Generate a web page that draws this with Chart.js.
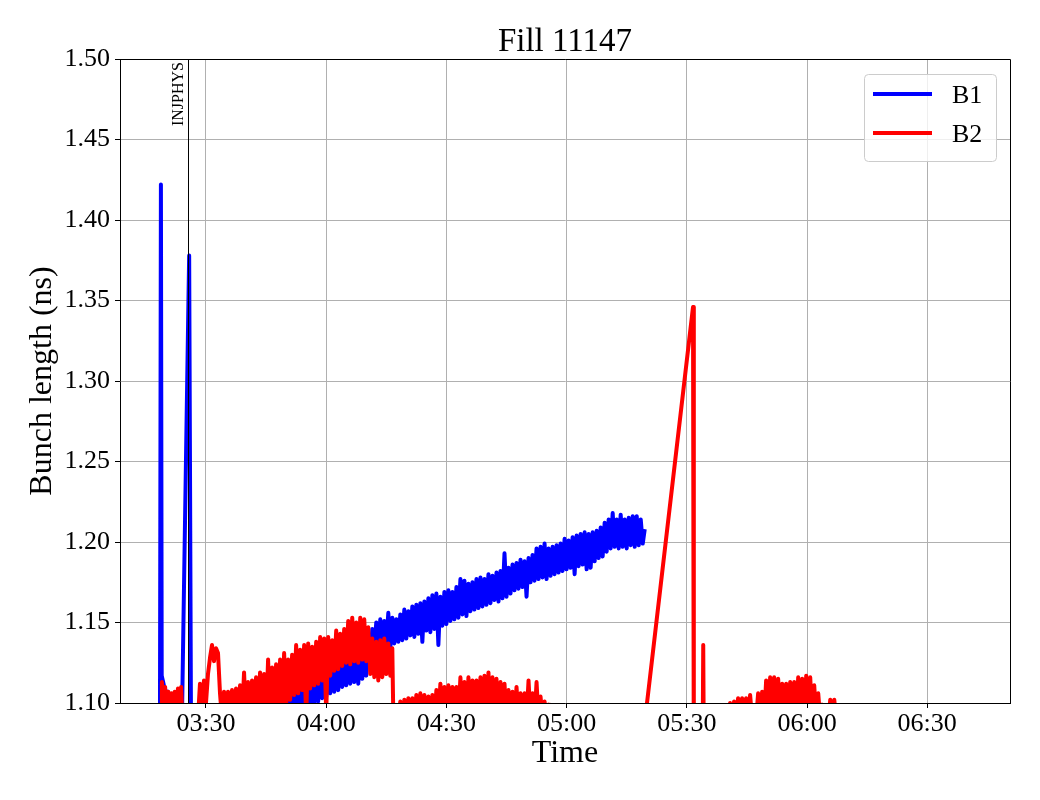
<!DOCTYPE html>
<html>
<head>
<meta charset="utf-8">
<title>Fill 11147</title>
<script src="https://cdn.jsdelivr.net/npm/chart.js@4.4.1/dist/chart.umd.min.js"></script>
<style>
  html, body { margin: 0; padding: 0; background: #fff; }
</style>
</head>
<body>
<canvas id="chart" width="1040" height="800"></canvas>
<script>
// ── Data ─────────────────────────────────────────────────
// time is in minutes after midnight, lengths in ns

const chartTitle = "Fill 11147";

const b1Time = [
  // spikes before injection
  198.5, 198.75, 198.95, 199.4, 199.9, 200.4, 200.9, 201.2, 203.9, 204.0, 205.8, 206.3, 227.0, 228.0,
  // 03:48 - 05:19
  228.5, 229, 229.5, 230, 230.5, 231, 231.5, 232, 232.5, 233,
  233.5, 234, 234.5, 235, 235.5, 236, 236.5, 237, 237.5, 238,
  238.5, 239, 239.5, 240, 240.5, 241, 241.5, 242, 242.5, 243,
  243.5, 244, 244.5, 245, 245.5, 246, 246.5, 247, 247.5, 248,
  248.5, 249, 249.5, 250, 250.5, 251, 251.5, 252, 252.5, 253,
  253.5, 254, 254.5, 255, 255.5, 256, 256.5, 257, 257.5, 258,
  258.5, 259, 259.5, 260, 260.5, 261, 261.5, 262, 262.5, 263,
  263.5, 264, 264.5, 265, 265.5, 266, 266.5, 267, 267.5, 268,
  268.5, 269, 269.5, 270, 270.5, 271, 271.5, 272, 272.5, 273,
  273.5, 274, 274.5, 275, 275.5, 276, 276.5, 277, 277.5, 278,
  278.5, 279, 279.5, 280, 280.5, 281, 281.5, 282, 282.5, 283,
  283.5, 284, 284.5, 285, 285.5, 286, 286.5, 287, 287.5, 288,
  288.5, 289, 289.5, 290, 290.5, 291, 291.5, 292, 292.5, 293,
  293.5, 294, 294.5, 295, 295.5, 296, 296.5, 297, 297.5, 298,
  298.5, 299, 299.5, 300, 300.5, 301, 301.5, 302, 302.5, 303,
  303.5, 304, 304.5, 305, 305.5, 306, 306.5, 307, 307.5, 308,
  308.5, 309, 309.5, 310, 310.5, 311, 311.5, 312, 312.5, 313,
  313.5, 314, 314.5, 315, 315.5, 316, 316.5, 317, 317.5, 318,
  318.5, 319, 319.5
];
const b1Length = [
  1.07, 1.422, 1.117, 1.112, 1.106, 1.107, 1.104, 1.08, 1.08, 1.09, 1.378, 1.06, 1.07, 1.08,
  1.104, 1.090, 1.105, 1.092, 1.106, 1.091, 1.108, 1.093, 1.107, 1.094,
  1.110, 1.095, 1.112, 1.093, 1.113, 1.097, 1.120, 1.099, 1.116, 1.101,
  1.118, 1.103, 1.121, 1.104, 1.122, 1.106, 1.121, 1.107, 1.124, 1.108,
  1.126, 1.110, 1.127, 1.111, 1.129, 1.112, 1.130, 1.113, 1.131, 1.112,
  1.133, 1.115, 1.134, 1.117, 1.138, 1.125, 1.146, 1.133, 1.150, 1.134,
  1.152, 1.135, 1.151, 1.136, 1.156, 1.134, 1.153, 1.137, 1.152, 1.138,
  1.155, 1.139, 1.158, 1.140, 1.157, 1.142, 1.160, 1.141, 1.161, 1.143,
  1.162, 1.138, 1.163, 1.145, 1.165, 1.144, 1.167, 1.146, 1.168, 1.136,
  1.166, 1.148, 1.169, 1.149, 1.170, 1.151, 1.169, 1.152, 1.172, 1.153,
  1.177, 1.155, 1.176, 1.154, 1.174, 1.157, 1.175, 1.158, 1.177, 1.159,
  1.178, 1.160, 1.177, 1.161, 1.180, 1.162, 1.179, 1.164, 1.181, 1.163,
  1.182, 1.165, 1.193, 1.166, 1.184, 1.168, 1.186, 1.170, 1.187, 1.171,
  1.189, 1.172, 1.188, 1.166, 1.190, 1.175, 1.192, 1.176, 1.196, 1.177,
  1.197, 1.178, 1.199, 1.177, 1.196, 1.179, 1.197, 1.180, 1.198, 1.181,
  1.199, 1.182, 1.202, 1.183, 1.201, 1.184, 1.203, 1.180, 1.204, 1.185,
  1.205, 1.186, 1.206, 1.183, 1.205, 1.184, 1.206, 1.188, 1.207, 1.190,
  1.209, 1.191, 1.212, 1.194, 1.214, 1.196, 1.218, 1.197, 1.214, 1.196,
  1.217, 1.197, 1.214, 1.196, 1.215, 1.198, 1.216, 1.197, 1.216, 1.198,
  1.214, 1.199, 1.208
];

const b2Time = [
  // first blip before injection
  198.9, 199.0, 199.4, 199.8, 200.2, 200.6, 201.0, 201.4, 201.8, 202.2, 202.6, 203.0, 203.4, 203.8, 204.1,
  208.0,
  // 03:28 - 04:17
  208.5, 209, 209.5, 210, 210.5, 211, 211.5, 212, 212.5, 213,
  213.5, 214, 214.5, 215, 215.5, 216, 216.5, 217, 217.5, 218,
  218.5, 219, 219.5, 220, 220.5, 221, 221.5, 222, 222.5, 223,
  223.5, 224, 224.5, 225, 225.5, 226, 226.5, 227, 227.5, 228,
  228.5, 229, 229.5, 230, 230.5, 231, 231.5, 232, 232.5, 233,
  233.5, 234, 234.5, 235, 235.5, 236, 236.5, 237, 237.5, 238,
  238.5, 239, 239.5, 240, 240.5, 241, 241.5, 242, 242.5, 243,
  243.5, 244, 244.5, 245, 245.5, 246, 246.5, 247, 247.5, 248,
  248.5, 249, 249.5, 250, 250.5, 251, 251.5, 252, 252.5, 253,
  253.5, 254, 254.5, 255, 255.5, 256, 256.5, 257,
  // 04:18 - 04:55
  258, 258.5, 259, 259.5, 260, 260.5, 261, 261.5, 262, 262.5,
  263, 263.5, 264, 264.5, 265, 265.5, 266, 266.5, 267, 267.5,
  268, 268.5, 269, 269.5, 270, 270.5, 271, 271.5, 272, 272.5,
  273, 273.5, 274, 274.5, 275, 275.5, 276, 276.5, 277, 277.5,
  278, 278.5, 279, 279.5, 280, 280.5, 281, 281.5, 282, 282.5,
  283, 283.5, 284, 284.5, 285, 285.5, 286, 286.5, 287, 287.5,
  288, 288.5, 289, 289.5, 290, 290.5, 291, 291.5, 292, 292.5,
  293, 293.5, 294, 294.5, 295, 295.5,
  // spikes around 05:30
  319.6, 331.55, 331.75, 333.9, 334.1, 334.3,
  // 05:40 - 06:08
  340.3, 340.8, 341.3, 341.8, 342.3, 342.8, 343.3, 343.8, 344.3, 344.8,
  345.3, 345.8, 346.3, 346.8, 347.3, 347.8, 348.3, 348.8, 349.3, 349.8,
  350.3, 350.8, 351.3, 351.8, 352.3, 352.8, 353.3, 353.8, 354.3, 354.8,
  355.3, 355.8, 356.3, 356.8, 357.3, 357.8, 358.3, 358.8, 359.3, 359.8,
  360.3, 360.8, 361.3, 361.8, 362.3, 362.8, 363.3, 363.8, 364.3, 364.8,
  365.3, 365.8, 366.3, 366.8, 367.3, 367.8
];
const b2Length = [
  1.09, 1.113, 1.094, 1.110, 1.093, 1.107, 1.092, 1.106, 1.093, 1.107, 1.092, 1.109, 1.093, 1.110, 1.09,
  1.09,
  1.112, 1.099, 1.114, 1.100, 1.118, 1.128, 1.136, 1.126, 1.134, 1.131,
  1.106, 1.090, 1.107, 1.090, 1.107, 1.090, 1.108, 1.090, 1.109, 1.090,
  1.111, 1.090, 1.119, 1.090, 1.113, 1.090, 1.114, 1.090, 1.116, 1.090,
  1.119, 1.090, 1.118, 1.090, 1.127, 1.090, 1.122, 1.090, 1.124, 1.090,
  1.127, 1.092, 1.131, 1.098, 1.127, 1.102, 1.130, 1.105, 1.136, 1.106,
  1.133, 1.108, 1.136, 1.090, 1.137, 1.109, 1.135, 1.111, 1.138, 1.112,
  1.141, 1.114, 1.140, 1.093, 1.141, 1.117, 1.139, 1.120, 1.145, 1.121,
  1.143, 1.123, 1.146, 1.125, 1.151, 1.124, 1.153, 1.126, 1.150, 1.125,
  1.153, 1.127, 1.152, 1.126, 1.147, 1.118, 1.140, 1.116, 1.138, 1.114,
  1.139, 1.116, 1.140, 1.118, 1.137, 1.117, 1.134, 1.050,
  1.090, 1.101, 1.090, 1.102, 1.090, 1.103, 1.090, 1.103, 1.090, 1.105,
  1.090, 1.106, 1.090, 1.105, 1.090, 1.104, 1.090, 1.105, 1.090, 1.108,
  1.090, 1.112, 1.090, 1.110, 1.090, 1.111, 1.090, 1.110, 1.090, 1.110,
  1.090, 1.116, 1.090, 1.113, 1.090, 1.116, 1.090, 1.114, 1.090, 1.114,
  1.090, 1.116, 1.090, 1.117, 1.090, 1.119, 1.090, 1.116, 1.090, 1.115,
  1.090, 1.113, 1.090, 1.112, 1.090, 1.108, 1.090, 1.107, 1.090, 1.110,
  1.090, 1.106, 1.090, 1.106, 1.090, 1.114, 1.090, 1.106, 1.090, 1.113,
  1.090, 1.104, 1.090, 1.101, 1.090, 1.099,
  1.09, 1.346, 1.05, 1.05, 1.136, 1.05,
  1.090, 1.100, 1.090, 1.101, 1.090, 1.103, 1.090, 1.103, 1.090, 1.103,
  1.090, 1.105, 1.090, 1.097, 1.090, 1.106, 1.090, 1.107, 1.090, 1.114,
  1.090, 1.116, 1.090, 1.116, 1.090, 1.115, 1.090, 1.112, 1.090, 1.112,
  1.090, 1.113, 1.090, 1.113, 1.090, 1.116, 1.090, 1.115, 1.090, 1.117,
  1.090, 1.116, 1.090, 1.111, 1.090, 1.106, 1.090, 1.099, 1.090, 1.097,
  1.090, 1.102, 1.090, 1.102, 1.090, 1.097
];

const xTicks      = [210, 240, 270, 300, 330, 360, 390];
const xTickLabels = ["03:30", "04:00", "04:30", "05:00", "05:30", "06:00", "06:30"];
const yTicks      = [1.10, 1.15, 1.20, 1.25, 1.30, 1.35, 1.40, 1.45, 1.50];

const injTime  = 205.5;
const injLabel = "INJPHYS";

// ── Chart ────────────────────────────────────────────────

const SERIF = "'Liberation Serif', 'Times New Roman', serif";

const decorations = {
  id: "decorations",
  afterDraw(chart) {
    const { ctx, chartArea: a, scales: { x } } = chart;
    ctx.save();

    // top / right spines
    ctx.strokeStyle = "#000";
    ctx.lineWidth = 1;
    ctx.beginPath();
    ctx.moveTo(Math.round(a.left), Math.round(a.top) + 0.5);
    ctx.lineTo(Math.round(a.right) + 0.5, Math.round(a.top) + 0.5);
    ctx.lineTo(Math.round(a.right) + 0.5, Math.round(a.bottom));
    ctx.stroke();

    // injection marker
    const px = Math.round(x.getPixelForValue(injTime)) + 0.5;
    ctx.beginPath();
    ctx.moveTo(px, a.top);
    ctx.lineTo(px, a.bottom);
    ctx.stroke();
    ctx.save();
    ctx.translate(px - 5.5, a.top + 3);
    ctx.rotate(-Math.PI / 2);
    ctx.fillStyle = "#000";
    ctx.font = "16px " + SERIF;
    ctx.textAlign = "right";
    ctx.textBaseline = "alphabetic";
    ctx.fillText(injLabel, 0, 0);
    ctx.restore();

    // title
    ctx.fillStyle = "#000";
    ctx.font = "33px " + SERIF;
    ctx.textAlign = "center";
    ctx.textBaseline = "middle";
    ctx.fillText(chartTitle, (a.left + a.right) / 2, 42);

    // legend
    const bw = 132, bh = 87;
    const bx = a.right - 14 - bw, by = a.top + 15;
    ctx.beginPath();
    ctx.roundRect(bx + 0.5, by + 0.5, bw, bh, 4);
    ctx.fillStyle = "rgba(255,255,255,0.8)";
    ctx.fill();
    ctx.strokeStyle = "#cccccc";
    ctx.stroke();
    ctx.font = "26px " + SERIF;
    ctx.textAlign = "left";
    chart.data.datasets.forEach((ds, i) => {
      const ly = by + 20 + i * 39;
      ctx.strokeStyle = ds.borderColor;
      ctx.lineWidth = 4;
      ctx.beginPath();
      ctx.moveTo(bx + 9, ly);
      ctx.lineTo(bx + 68, ly);
      ctx.stroke();
      ctx.fillStyle = "#000";
      ctx.fillText(ds.label, bx + 88, ly + 2);
    });

    ctx.restore();
  }
};

new Chart(document.getElementById("chart"), {
  type: "line",
  data: {
    datasets: [
      {
        label: "B1",
        data: b1Time.map((t, i) => ({ x: t, y: b1Length[i] })),
        borderColor: "#0000ff",
        borderWidth: 4,
        pointRadius: 0,
        tension: 0,
        borderJoinStyle: "round",
        clip: 0,
        order: 1
      },
      {
        label: "B2",
        data: b2Time.map((t, i) => ({ x: t, y: b2Length[i] })),
        borderColor: "#ff0000",
        borderWidth: 4,
        pointRadius: 0,
        tension: 0,
        borderJoinStyle: "round",
        clip: 0,
        order: 0
      }
    ]
  },
  options: {
    responsive: false,
    animation: false,
    events: [],
    layout: { padding: { top: 59, right: 30, left: 0, bottom: 0 } },
    plugins: {
      legend: { display: false },
      tooltip: { enabled: false }
    },
    scales: {
      x: {
        type: "linear",
        min: 188.54,
        max: 410.66,
        afterBuildTicks: s => { s.ticks = xTicks.map(v => ({ value: v })); },
        afterFit: s => { s.height = 97; },
        ticks: {
          callback: (v, i) => xTickLabels[i],
          color: "#000",
          font: { family: SERIF, size: 26 },
          padding: 1,
          maxRotation: 0,
          autoSkip: false
        },
        grid: { color: "#b0b0b0", lineWidth: 1, tickColor: "#000", tickLength: 5 },
        border: { display: true, color: "#000", width: 1 },
        title: {
          display: true,
          text: "Time",
          color: "#000",
          font: { family: SERIF, size: 32 },
          padding: { top: 0, bottom: 27 }
        }
      },
      y: {
        min: 1.10,
        max: 1.50,
        afterBuildTicks: s => { s.ticks = yTicks.map(v => ({ value: v })); },
        afterFit: s => { s.width = 120; },
        ticks: {
          callback: (v, i) => yTicks[i].toFixed(2),
          color: "#000",
          font: { family: SERIF, size: 26 },
          padding: 5
        },
        grid: { color: "#b0b0b0", lineWidth: 1, tickColor: "#000", tickLength: 5 },
        border: { display: true, color: "#000", width: 1 },
        title: {
          display: true,
          text: "Bunch length (ns)",
          color: "#000",
          font: { family: SERIF, size: 32 },
          padding: { top: 23, bottom: 0 }
        }
      }
    }
  },
  plugins: [decorations]
});
</script>
</body>
</html>
